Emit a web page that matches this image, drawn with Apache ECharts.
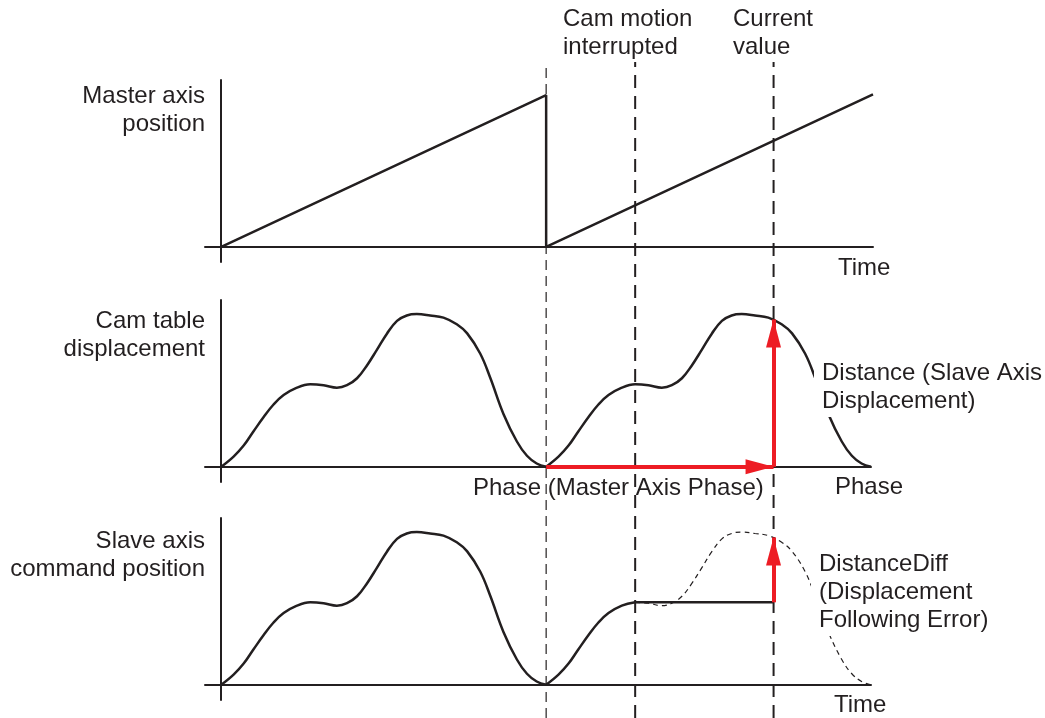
<!DOCTYPE html>
<html>
<head>
<meta charset="utf-8">
<script src="https://cdn.jsdelivr.net/npm/echarts@6/dist/echarts.min.js"></script>
<style>
html, body { margin: 0; padding: 0; background: #fff; }
#chart { width: 1045px; height: 718px; }
</style>
</head>
<body>
<div id="chart"></div>
<script>
// master axis position: sawtooth over time
var masterTime = [0, 10, 10, 20.06];
var masterPos = [0, 10, 0, 10.05];

// one cycle of the cam table (phase -> displacement)
var camPhase = [0, 0.38, 0.69, 0.99, 1.30, 1.61, 1.92, 2.33, 2.74, 3.15, 3.56, 3.87, 4.18, 4.48, 4.79, 5.10, 5.41, 5.71, 6.02, 6.43, 6.84, 7.25, 7.57, 7.97, 8.28, 8.69, 9.10, 9.41, 9.71, 10];
var camDisp = [0, 0.67, 1.4, 2.33, 3.27, 4.11, 4.73, 5.22, 5.44, 5.38, 5.22, 5.38, 5.84, 6.67, 7.71, 8.78, 9.62, 9.98, 10.07, 9.98, 9.84, 9.4, 8.8, 7.47, 5.87, 3.47, 1.67, 0.73, 0.22, 0];

// events on the time axis
var cycleStarts = [0, 10];
var markerTimes = [10, 12.74, 17];      // cycle restart, cam motion interrupted, current value
var interruptTime = 12.74;
var currentTime = 17;
var heldDisp = 5.44;                    // slave command held after interruption
var currentDisp = 9.72;                 // cam table displacement at current value

var ink = '#231f20';
var red = '#ed1c24';
var font = '24px "Liberation Sans", Arial, Helvetica, sans-serif';

function pairs(xs, ys) {
    var out = [];
    for (let i = 0; i < xs.length; i++) out.push([xs[i], ys[i]]);
    return out;
}

// cam points for a cycle starting at offset, limited to phase range
function camCycle(offset, from, to) {
    var out = [];
    for (let i = 0; i < camPhase.length; i++) {
        if (camPhase[i] >= from && camPhase[i] <= to) out.push([camPhase[i] + offset, camDisp[i]]);
    }
    return out;
}

function axisX(idx, max, show) {
    return {
        type: 'value', gridIndex: idx, min: -0.5, max: max, show: show,
        axisLine: { onZero: true, lineStyle: { color: ink, width: 2 } },
        axisTick: { show: false }, axisLabel: { show: false }, splitLine: { show: false }
    };
}
function axisY(idx, min, max, show) {
    return {
        type: 'value', gridIndex: idx, min: min, max: max, show: show,
        axisLine: { onZero: true, lineStyle: { color: ink, width: 2 } },
        axisTick: { show: false }, axisLabel: { show: false }, splitLine: { show: false }
    };
}

function curve(grid, data, opts) {
    opts = opts || {};
    return {
        type: 'line', xAxisIndex: grid, yAxisIndex: grid, data: data,
        smooth: opts.smooth === undefined ? 0.4 : opts.smooth,
        showSymbol: false, silent: true, z: 3,
        lineStyle: { color: ink, width: opts.width || 2.5, type: opts.type || 'solid' }
    };
}

function arrows(lines) {
    return {
        silent: true, animation: false,
        symbol: ['none', 'triangle'], symbolSize: [15, 28], symbolOffset: [0, [0, 14]],
        label: { show: false },
        lineStyle: { color: red, width: 4, type: 'solid', opacity: 1 },
        itemStyle: { color: red },
        emphasis: { disabled: true },
        data: lines
    };
}

var series = [];

// top panel
series.push(curve(0, pairs(masterTime, masterPos), { smooth: false }));

// middle panel: cam table, two cycles
cycleStarts.forEach(function (s, i) {
    var c = curve(1, camCycle(s, 0, 10));
    if (i === 1) {
        c.markLine = arrows([
            [{ coord: [cycleStarts[1], 0] }, { coord: [currentTime, 0] }],
            [{ coord: [currentTime, 0] }, { coord: [currentTime, currentDisp] }]
        ]);
    }
    series.push(c);
});

// bottom panel: slave axis command position
series.push(curve(2, camCycle(cycleStarts[0], 0, 10)));
series.push(curve(2, camCycle(cycleStarts[1], 0, interruptTime - cycleStarts[1])));
var held = curve(2, [[interruptTime, heldDisp], [currentTime, heldDisp]], { smooth: false });
held.markLine = arrows([
    [{ coord: [currentTime, heldDisp] }, { coord: [currentTime, currentDisp] }]
]);
series.push(held);
series.push(curve(2, camCycle(cycleStarts[1], interruptTime - cycleStarts[1], 10), { width: 1.2, type: [5, 4] }));

// vertical dashed markers through all panels
markerTimes.forEach(function (t, i) {
    series.push({
        type: 'line', xAxisIndex: 3, yAxisIndex: 3, data: [[t, 0], [t, 1]],
        showSymbol: false, silent: true, z: 1,
        lineStyle: { color: ink, width: i === 0 ? 1.2 : 2, type: i === 0 ? [10, 6] : [13, 8] }
    });
});

function label(text, x, y, align, bg) {
    var st = {
        text: text, x: x, y: y, font: font, fill: ink,
        align: align || 'left', verticalAlign: 'middle', lineHeight: 28
    };
    if (bg) { st.backgroundColor = '#fff'; st.padding = [2, 2, 2, 8]; }
    return { type: 'text', silent: true, z: 20, style: st };
}

var option = {
    animation: false,
    backgroundColor: '#fff',
    grid: [
        { left: 205, top: 80, width: 668, height: 182 },
        { left: 205, top: 300, width: 666, height: 182 },
        { left: 205, top: 518, width: 666, height: 182 },
        { left: 205, top: 62, width: 668, height: 656 }
    ],
    xAxis: [axisX(0, 20.06, true), axisX(1, 20, true), axisX(2, 20, true), axisX(3, 20.06, false)],
    yAxis: [axisY(0, -1, 11, true), axisY(1, -1, 11, true), axisY(2, -1, 11, true), axisY(3, 0, 1, false)],
    series: series,
    graphic: [
        label('Master axis\nposition', 205, 110, 'right'),
        label('Cam table\ndisplacement', 205, 335, 'right'),
        label('Slave axis\ncommand position', 205, 555, 'right'),
        label('Cam motion\ninterrupted', 563, 33),
        label('Current\nvalue', 733, 33),
        label('Time', 838, 268),
        label('Phase (Master Axis Phase)', 473, 488),
        label('Phase', 835, 487),
        label('Distance (Slave Axis\nDisplacement)', 814, 387, 'left', true),
        label('DistanceDiff\n(Displacement\nFollowing Error)', 811, 592, 'left', true),
        label('Time', 834, 705)
    ]
};

var chart = echarts.init(document.getElementById('chart'), null, { renderer: 'canvas' });
chart.setOption(option);
</script>
</body>
</html>
